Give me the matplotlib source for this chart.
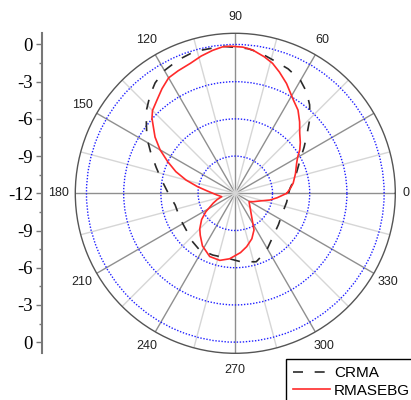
import numpy as np
import matplotlib
matplotlib.use('Agg')
import matplotlib.pyplot as plt
from matplotlib.ticker import FixedLocator

plt.rcParams['font.serif'] = ['Liberation Serif', 'Times New Roman', 'DejaVu Serif']

# ---- data (angle in degrees, normalised gain in dB) ----
crma_deg = [0, 5, 15, 27, 34, 40, 45, 50, 55, 60, 67, 74, 80, 85, 95, 106,
            113, 120, 126, 131, 137, 142, 148, 154, 162, 170, 180, 191, 205,
            219, 228, 237, 250, 263, 275, 287, 298, 310, 324, 338, 350, 360]
crma_db = [-7.7, -7.58, -7.0, -6.14, -5.3, -4.43, -3.5, -2.68, -2.0, -1.49,
           -1.1, -0.84, -0.5, -0.29, -0.1, -0.1, -0.3, -0.57, -1.0, -1.52,
           -2.2, -2.9, -3.6, -4.4, -5.3, -5.98, -6.6, -7.06, -7.1, -7.03,
           -6.8, -6.62, -6.7, -6.73, -6.45, -6.23, -6.7, -7.34, -7.7, -7.88,
           -7.8, -7.7]

rmasebg_deg = [0, 5, 10, 18, 26, 30, 34, 38, 43, 48, 53, 58, 65, 70, 74, 78,
               83, 87, 92, 95, 99, 104, 109, 115, 120, 125, 130, 135, 138, 141,
               145, 150, 155, 160, 165, 170, 175, 185, 194, 199, 204, 212, 218,
               225, 230, 238, 248, 257, 265, 275, 282, 290, 297, 305, 315, 324,
               329, 335, 343, 349, 354, 360]
rmasebg_db = [-7.85, -7.55, -7.26, -6.9, -6.5, -6.2, -5.73, -5.35, -4.9, -4.25,
              -3.6, -3.15, -2.23, -1.6, -1.1, -0.75, -0.37, -0.2, -0.13, -0.15,
              -0.33, -0.6, -0.91, -1.1, -1.25, -1.7, -2.18, -2.56, -2.96, -3.5,
              -4.1, -5.0, -6.0, -6.9, -7.9, -8.9, -9.7, -10.5, -10.87, -10.45,
              -10.05, -9.2, -8.55, -7.95, -7.6, -7.0, -6.5, -6.45, -6.7, -7.2,
              -7.6, -8.1, -8.68, -9.7, -10.3, -10.6, -10.7, -10.4, -9.9, -9.16,
              -8.6, -7.85]

angle_ticks = list(range(0, 360, 30))
angle_labels = ['0', '', '60', '90', '120', '150', '180', '210', '240', '270', '300', '330']
minor_angles = list(range(15, 360, 30))
r_ticks = [-12, -9, -6, -3, 0]
r_minor = [-10.5, -7.5, -4.5, -1.5]
R_MIN, R_MAX = -12, 0.9

W, H = 411, 400
fig = plt.figure(figsize=(W / 100, H / 100), dpi=100)
fig.patch.set_facecolor('white')

cx, cy, rad = 235.3, 193.3, 160.0
ax = fig.add_axes([(cx - rad) / W, (H - cy - rad) / H, 2 * rad / W, 2 * rad / H],
                  projection='polar')
ax.set_ylim(R_MIN, R_MAX)

ax.plot(np.deg2rad(crma_deg), crma_db, color='#2a2a2a', lw=1.2,
        dashes=(6, 7), label='CRMA', zorder=5)
ax.plot(np.deg2rad(rmasebg_deg), rmasebg_db, color='#ff2a2a', lw=1.2,
        label='RMASEBG', zorder=6)

ax.set_xticks(np.deg2rad(angle_ticks))
ax.set_xticklabels([])
ax.xaxis.set_minor_locator(FixedLocator(np.deg2rad(minor_angles)))
ax.set_yticks(r_ticks[1:])
ax.set_yticklabels([])
ax.grid(which='major', axis='x', color='#8f8f8f', lw=1.0)
ax.grid(which='minor', axis='x', color='#d6d6d6', lw=1.0)
ax.grid(axis='y', color='#2020ff', ls=(0, (1, 1.2)), lw=1.0)
ax.tick_params(axis='x', which='major', direction='in', length=6, color='#444444', width=1)
ax.tick_params(axis='x', which='minor', direction='in', length=4, color='#444444', width=1)
ax.spines['polar'].set_color('#555555')
ax.spines['polar'].set_linewidth(1.0)

# angular labels just outside the circle
for a, lab in zip(angle_ticks, angle_labels):
    if not lab:
        continue
    c, s = np.cos(np.deg2rad(a)), np.sin(np.deg2rad(a))
    w = 6.5 * len(lab)
    dx = c * (7 + w / 2)
    dy = s * (12 + 4.5)
    ax.annotate(lab, xy=(np.deg2rad(a), R_MAX), xytext=(dx * 0.72, dy * 0.72),
                textcoords='offset points', ha='center', va='center',
                fontsize=9, family='Liberation Sans', color='#222222',
                annotation_clip=False)

# left-hand radial scale axis (mirrored)
lax = fig.add_axes([42 / W, (H - cy - rad) / H, 0.0001, 2 * rad / H])
span = R_MAX - R_MIN
lax.set_ylim(-span, span)
pos = [v - R_MIN for v in r_ticks] + [-(v - R_MIN) for v in r_ticks if v != R_MIN]
labs = [str(v) for v in r_ticks] + [str(v) for v in r_ticks if v != R_MIN]
mpos = [v - R_MIN for v in r_minor] + [-(v - R_MIN) for v in r_minor]
lax.set_yticks(mpos, minor=True)
lax.set_yticks(pos)
lax.set_yticklabels(labs, fontfamily='serif', fontsize=13.5)
lax.set_xticks([])
for sp in ['top', 'right', 'bottom']:
    lax.spines[sp].set_visible(False)
lax.spines['left'].set_color('#777777')
lax.spines['left'].set_linewidth(1.5)
lax.tick_params(axis='y', which='major', length=4.5, width=1, color='#777777', pad=2,
                labelcolor='black')
lax.tick_params(axis='y', which='minor', length=2.5, width=1, color='#777777')
lax.patch.set_visible(False)

leg = fig.legend(handles=ax.get_lines(), loc='upper left',
                 bbox_to_anchor=(286 / W, (H - 359) / H), borderaxespad=0,
                 fancybox=False, edgecolor='black', framealpha=1,
                 prop={'family': 'Liberation Sans', 'size': 11},
                 handlelength=2.4, handletextpad=0.3, labelspacing=0.25,
                 borderpad=0.45)
leg.get_frame().set_linewidth(1.0)

fig.savefig('out.png', dpi=100, facecolor='white')
